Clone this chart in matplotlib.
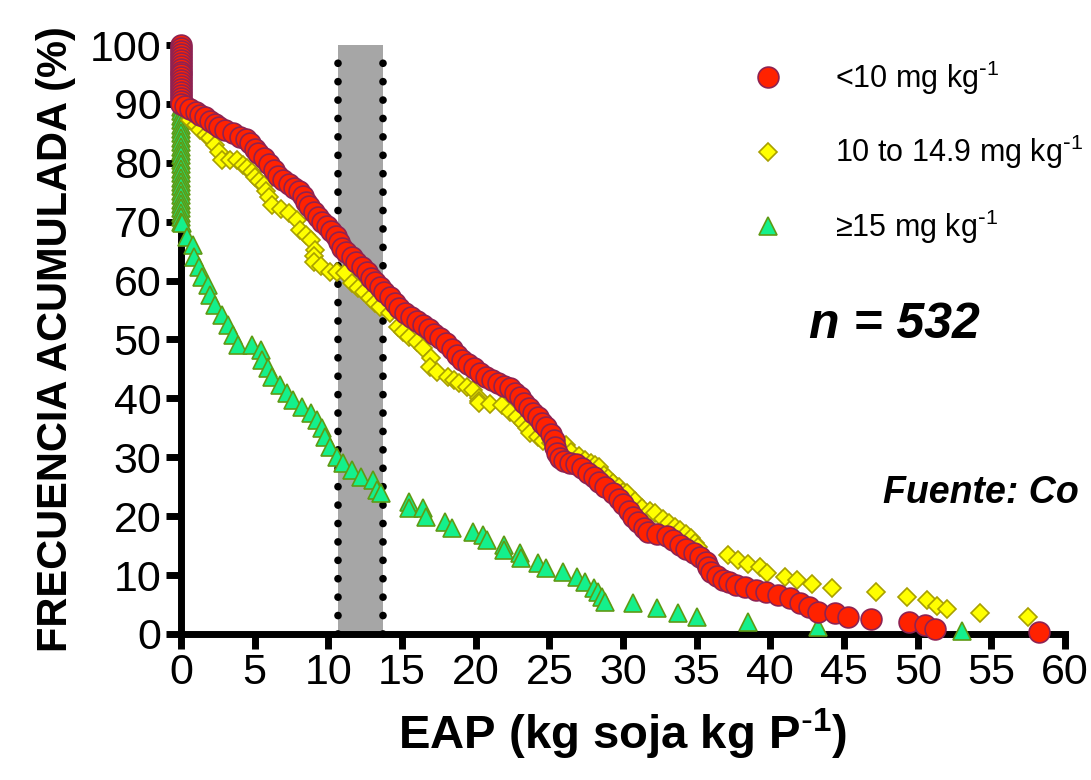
import matplotlib
matplotlib.use('Agg')
import matplotlib.pyplot as plt

plt.rcParams['font.family'] = ['Liberation Sans', 'DejaVu Sans']
plt.rcParams['mathtext.default'] = 'regular'

# data: EAP (x) and cumulative frequency % (y)
red_x = [0, 0, 0, 0, 0, 0, 0, 0, 0, 0, 0, 0, 0, 0, 0, 0, 0, 0, 0, 0, 0,
         0.3, 0.6, 1.0, 1.3, 1.6, 2.0, 2.3, 2.6, 3.0, 3.5, 4.0, 4.4, 4.7, 5.0, 5.2, 5.6,
         6.0, 6.3, 6.6, 6.9, 7.3, 7.7, 8.0, 8.3, 8.5, 8.7, 9.0, 9.3, 9.6, 9.9, 10.2,
         10.5, 10.7, 10.9, 11.2, 11.6, 11.9, 12.3, 12.6, 12.9, 13.2, 13.5, 13.8, 14.2,
         14.5, 14.8, 15.2, 15.6, 16.0, 16.4, 16.8, 17.2, 17.6, 18.0, 18.4, 18.7, 19.1,
         19.5, 19.9, 20.3, 20.7, 21.1, 21.5, 21.9, 22.3, 22.7, 23.0, 23.3, 23.6, 23.9,
         24.2, 24.5, 24.8, 25.1, 25.3, 25.4, 25.5, 25.7, 26.0, 26.4, 26.8, 27.2, 27.6,
         28.0, 28.4, 28.8, 29.3, 29.7, 30.0, 30.4, 30.7, 31.0, 31.4, 31.7, 32.3, 33.0,
         33.4, 33.9, 34.3, 34.8, 35.2, 35.6, 35.8, 36.0, 36.4, 36.8, 37.2, 37.7, 38.3,
         39.0, 39.7, 40.5, 41.3, 42.0, 42.6, 43.2, 44.4, 45.3, 46.8, 49.4, 50.5, 51.2, 58.2]
red_y = [100, 99.5, 99, 98.5, 98, 97.5, 97, 96.5, 96, 95.5, 95, 94.5, 94, 93.5, 93,
         92.5, 92, 91.5, 91, 90.5, 90,
         89.6, 89.2, 88.6, 88.2, 87.7, 87.1, 86.6, 86.0, 85.5, 85.0, 84.4, 84.0, 83.4,
         82.4, 81.6, 80.8, 79.8, 78.8, 77.8, 77.0, 76.4, 75.8, 75.2, 74.4, 73.4, 72.6,
         71.6, 70.8, 70.0, 69.3, 68.4, 67.6, 66.6, 65.6, 64.8, 64.0, 63.2, 62.3, 61.4,
         60.5, 59.7, 58.9, 58.0, 57.2, 56.2, 55.3, 54.5, 53.8, 53.1, 52.5, 51.7, 51.0,
         50.2, 49.4, 48.4, 47.4, 46.6, 45.8, 45.1, 44.3, 43.7, 43.1, 42.6, 42.1, 41.7,
         41.0, 40.2, 39.2, 38.3, 37.5, 36.8, 35.9, 35.1, 34.0, 32.9, 31.8, 30.7, 29.9,
         29.4, 29.1, 28.8, 28.2, 27.4, 26.6, 25.8, 25.0, 24.0, 23.0, 22.0, 20.8, 19.8,
         19.0, 18.0, 17.4, 17.0, 16.7, 16.0, 15.1, 14.5, 13.7, 13.0, 12.2, 11.3, 10.5,
         9.8, 9.2, 8.8, 8.3, 7.9, 7.5, 7.1, 6.6, 6.1, 5.3, 4.6, 3.7, 3.5, 2.9, 2.5,
         2.1, 1.5, 0.8, 0.4]

yel_x = [0, 0, 0, 0, 0, 0,
         0.2, 0.6, 1.0, 1.3, 1.7, 2.0, 2.3, 2.6, 2.8, 3.3, 3.8, 4.2, 4.5, 4.8, 5.0, 5.3,
         5.6, 5.8, 6.0, 6.2, 6.8, 7.3, 7.9, 8.1, 8.5, 8.8, 9.1, 9.0, 9.0, 9.5, 10.1, 10.6,
         11.1, 11.6, 12.0, 12.4, 12.8, 13.2, 13.5, 14.2, 14.7, 15.1, 15.5, 16.0, 16.4,
         17.0, 16.9, 17.4, 18.1, 18.5, 18.9, 19.4, 19.8, 20.2, 20.2, 20.2, 21.0, 21.8,
         22.3, 22.8, 23.2, 23.5, 23.7, 24.2, 24.6, 25.1, 25.6, 26.1, 26.5, 27.0, 27.4,
         27.8, 28.1, 28.4, 28.7, 29.0, 29.3, 29.7, 30.0, 30.3, 30.8, 31.3, 31.8, 32.2,
         32.7, 33.1, 33.5, 33.9, 34.3, 34.6, 34.9, 35.1, 37.1, 37.8, 38.5, 39.3, 39.8,
         41.0, 41.8, 42.8, 44.2, 47.2, 49.3, 50.6, 51.3, 52.0, 54.2, 57.5]
yel_y = [99, 97, 95, 93, 91, 90,
         89.0, 87.3, 86.4, 85.6, 84.8, 84.2, 83.0, 81.8, 80.5, 80.5, 80.5, 79.7, 79.1,
         78.4, 77.6, 76.9, 76.2, 75.2, 74.2, 72.8, 72.2, 71.5, 70.3, 68.6, 67.8, 66.9,
         65.2, 64.2, 63.2, 62.4, 61.5, 61.4, 61.3, 59.6, 58.8, 58.1, 57.0, 56.2, 55.5,
         54.5, 52.1, 51.2, 50.4, 49.5, 48.6, 46.9, 45.3, 44.5, 43.6, 43.1, 42.6, 42.0,
         41.4, 40.1, 39.6, 39.2, 39.0, 38.9, 37.7, 36.8, 35.8, 34.9, 34.1, 33.4, 32.8,
         32.5, 32.3, 32.1, 30.9, 30.2, 29.5, 29.0, 28.7, 28.4, 27.0, 26.4, 25.6, 25.0,
         24.1, 23.9, 22.6, 21.4, 20.9, 20.5, 19.6, 18.8, 18.2, 17.7, 17.0, 16.3, 15.5,
         14.8, 13.4, 12.6, 11.9, 11.4, 10.3, 9.7, 9.2, 8.5, 7.8, 7.2, 6.3, 5.8, 4.8,
         4.2, 3.5, 2.8]

grn_x = [0, 0, 0, 0, 0, 0, 0, 0, 0, 0, 0, 0, 0, 0, 0, 0, 0, 0, 0, 0, 0, 0, 0, 0, 0, 0, 0,
         0.1, 0.4, 0.8, 0.9, 1.2, 1.4, 1.8, 2.0, 2.3, 2.8, 3.2, 3.5, 3.9, 4.8, 5.4, 5.5,
         5.9, 6.2, 6.7, 7.2, 7.6, 8.2, 8.8, 9.2, 9.6, 9.8, 10.1, 10.6, 11.0, 11.6, 12.2,
         13.0, 13.3, 13.6, 15.5, 15.5, 16.4, 16.6, 17.9, 18.4, 19.8, 20.5, 20.8, 21.9,
         21.9, 23.0, 23.1, 24.2, 24.8, 25.9, 26.9, 27.4, 28.0, 28.3, 28.6, 28.8, 30.7,
         32.3, 33.7, 35.0, 38.5, 43.2, 53.0]
grn_y = [89.5, 88.75, 88, 87.25, 86.5, 85.75, 85, 84.25, 83.5, 82.75, 82, 81.25,
         80.5, 79.75, 79, 78.25, 77.5, 76.75, 76, 75.25, 74.5, 73.75, 73, 72.25, 71.5,
         70.75, 70,
         69.8, 67.4, 66.0, 64.0, 62.3, 60.6, 59.3, 57.6, 55.9, 54.2, 52.5, 50.8, 49.1,
         49.1, 48.2, 46.5, 45.2, 43.6, 42.3, 40.9, 39.7, 38.5, 37.5, 36.3, 35.0, 33.4,
         31.7, 30.0, 29.0, 27.8, 26.7, 26.1, 24.4, 23.9, 22.4, 21.4, 21.4, 19.9, 19.0,
         18.0, 17.3, 16.8, 16.0, 15.1, 14.2, 13.8, 12.9, 12.1, 11.2, 10.5, 9.7, 8.8,
         7.8, 7.1, 6.3, 5.4, 5.2, 4.4, 3.5, 2.9, 2.0, 1.2, 0.5]

labels = ['<10 mg kg$^{\\text{-}1}$', '10 to 14.9 mg kg$^{\\text{-}1}$',
          '≥15 mg kg$^{\\text{-}1}$']
band = [10.66, 13.71]

fig = plt.figure(figsize=(10.91, 7.8), dpi=100)
ax = fig.add_axes([0.1659, 0.1872, 0.8103, 0.7551])

ax.axvspan(band[0], band[1], color='#a6a6a6', zorder=1, lw=0)
for b in band:
    ax.plot([b, b], [0, 100], color='black', lw=5.5, linestyle=(0, (0.01, 2.4)),
            dash_capstyle='round', zorder=2, clip_on=False)

ax.plot(grn_x, grn_y, '^', ms=13, mfc='#14f08c', mec='#5f9a14', mew=1.2,
        ls='none', clip_on=False, zorder=3, label=labels[2])
ax.plot(yel_x, yel_y, 'D', ms=9.5, mfc='#ffff00', mec='#a8a000', mew=1.2,
        ls='none', clip_on=False, zorder=4, label=labels[1])
ax.plot(red_x, red_y, 'o', ms=15, mfc='#ff2200', mec='#8e2252', mew=1.2,
        ls='none', clip_on=False, zorder=5, label=labels[0])

ax.set_xlim(0, 60)
ax.set_ylim(0, 100)
ax.set_xticks(range(0, 61, 5))
ax.set_yticks(range(0, 101, 10))
for s in ['top', 'right']:
    ax.spines[s].set_visible(False)
for s in ['left', 'bottom']:
    ax.spines[s].set_linewidth(5)
ax.tick_params(width=5, length=11, labelsize=31, pad=3, direction='out')

ax.set_xlabel('EAP (kg soja kg P$^{\\text{-}1}$)', fontsize=34, fontweight='bold',
              labelpad=10)
ax.set_ylabel('FRECUENCIA ACUMULADA (%)', fontsize=30, fontweight='bold', labelpad=10)

h, l = ax.get_legend_handles_labels()
ax.legend(h[::-1], l[::-1], loc='upper left', bbox_to_anchor=(0.605, 1.013),
          frameon=False, fontsize=22, labelspacing=1.18, handletextpad=1.2,
          borderaxespad=0.3)

fig.text(0.82, 0.583, 'n = 532', fontsize=36, fontweight='bold', style='italic',
         ha='center', va='center')
fig.text(0.809, 0.368, 'Fuente: Co', fontsize=27, fontweight='bold', style='italic',
         ha='left', va='center')

fig.savefig('out.png', dpi=100)
